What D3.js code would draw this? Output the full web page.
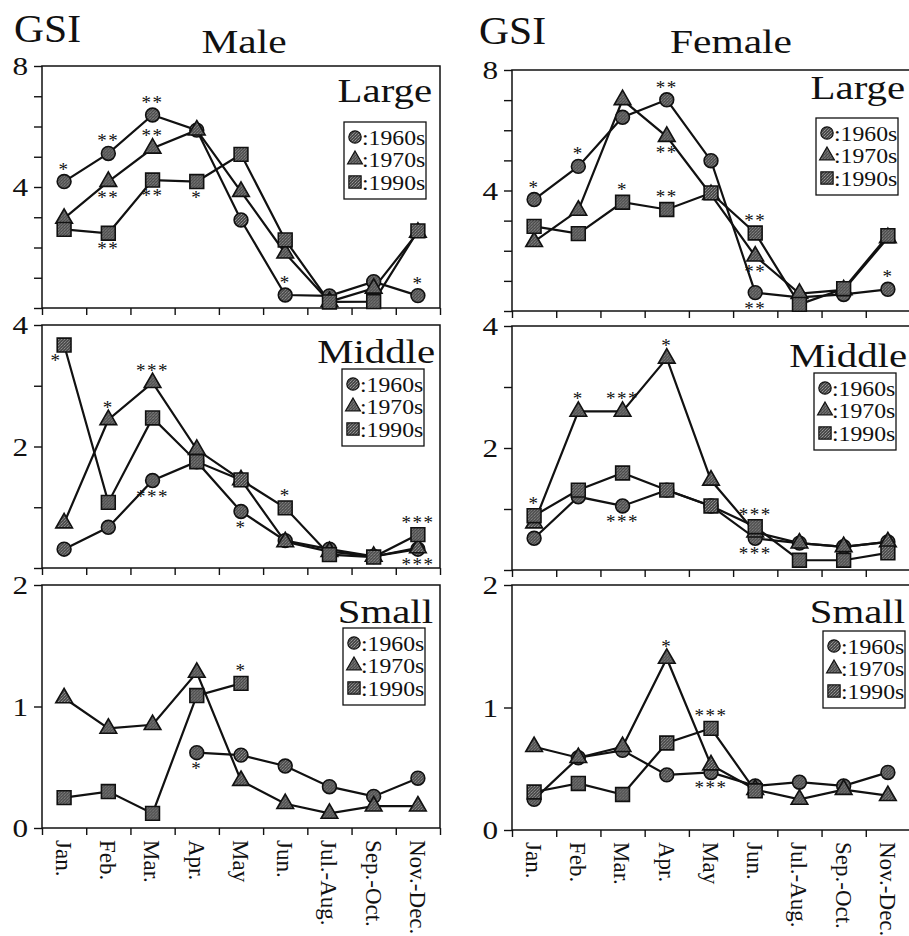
<!DOCTYPE html>
<html><head><meta charset="utf-8">
<script src="https://cdn.jsdelivr.net/npm/d3@7"></script>
<style>
html,body{margin:0;padding:0;background:#fff;}
svg{display:block;}
text{font-family:"Liberation Serif","Times New Roman",serif;fill:#111;}
</style></head>
<body>
<svg id="chart" width="909" height="936"></svg>
<script>
// ---------- data ----------
const months = ["Jan.","Feb.","Mar.","Apr.","May","Jun.","Jul.-Aug.","Sep.-Oct.","Nov.-Dec."];
const decadeLabels = [":1960s", ":1970s", ":1990s"];
const sizeLabels = ["Large", "Middle", "Small"];
const sexLabels = ["Male", "Female"];
const yMaxBySize = [8, 4, 2];
const yLabelTicks = [[8, 4], [4, 2], [2, 1, 0]];

const maleLarge1960s = [4.18, 5.11, 6.38, 5.88, 2.91, 0.43, 0.40, 0.87, 0.41];
const maleLarge1970s = [2.96, 4.18, 5.28, 5.88, 3.85, 1.81, 0.21, 0.65, 2.50];
const maleLarge1990s = [2.60, 2.47, 4.23, 4.18, 5.08, 2.25, 0.20, 0.21, 2.55];

const femaleLarge1960s = [3.70, 4.80, 6.43, 7.01, 4.99, 0.61, 0.45, 0.55, 0.72];
const femaleLarge1970s = [2.30, 3.34, 7.01, 5.79, 3.86, 1.82, 0.58, 0.70, 2.43];
const femaleLarge1990s = [2.81, 2.57, 3.61, 3.37, 3.92, 2.59, 0.22, 0.74, 2.50];

const maleMiddle1960s = [0.31, 0.67, 1.44, 1.75, 0.93, 0.45, 0.31, 0.19, 0.31];
const maleMiddle1970s = [0.74, 2.44, 3.05, 1.95, 1.45, 0.43, 0.27, 0.19, 0.33];
const maleMiddle1990s = [3.67, 1.08, 2.47, 1.75, 1.45, 0.99, 0.22, 0.18, 0.55];

const femaleMiddle1960s = [0.52, 1.20, 1.05, 1.31, 1.05, 0.52, 0.44, 0.38, 0.46];
const femaleMiddle1970s = [0.77, 2.60, 2.60, 3.47, 1.47, 0.62, 0.44, 0.38, 0.46];
const femaleMiddle1990s = [0.89, 1.31, 1.59, 1.31, 1.05, 0.71, 0.16, 0.16, 0.28];

const maleSmall1960s = [null, null, null, 0.62, 0.60, 0.51, 0.34, 0.26, 0.41];
const maleSmall1970s = [1.07, 0.82, 0.85, 1.28, 0.39, 0.20, 0.12, 0.18, 0.18];
const maleSmall1990s = [0.25, 0.30, 0.12, 1.09, 1.19, null, null, null, null];

const femaleSmall1960s = [0.25, 0.59, 0.65, 0.45, 0.47, 0.36, 0.39, 0.36, 0.47];
const femaleSmall1970s = [0.68, 0.59, 0.68, 1.40, 0.53, 0.33, 0.25, 0.33, 0.28];
const femaleSmall1990s = [0.31, 0.38, 0.29, 0.71, 0.83, 0.32, null, null, null];

// significance marks: [series index, month index, text, position]
const maleLargeMarks = [[0,0,"*","a"],[0,1,"**","a"],[1,1,"**","b"],[2,1,"**","b"],[0,2,"**","a"],[1,2,"**","a"],[2,2,"**","b"],[2,3,"*","b"],[0,5,"*","a"],[0,8,"*","a"]];
const femaleLargeMarks = [[0,0,"*","a"],[0,1,"*","a"],[2,2,"*","a"],[0,3,"**","a"],[1,3,"**","b"],[2,3,"**","a"],[2,5,"**","a"],[1,5,"**","b"],[0,5,"**","b"],[0,8,"*","a"]];
const maleMiddleMarks = [[2,0,"*","bl"],[1,1,"*","a"],[1,2,"***","a"],[0,2,"***","b"],[0,4,"*","b"],[2,5,"*","a"],[2,8,"***","a"],[0,8,"***","b"]];
const femaleMiddleMarks = [[2,0,"*","a"],[1,1,"*","a"],[1,2,"***","a"],[1,3,"*","a"],[0,2,"***","b"],[2,5,"***","a"],[0,5,"***","b"]];
const maleSmallMarks = [[0,3,"*","b"],[2,4,"*","a"]];
const femaleSmallMarks = [[1,3,"*","a"],[2,4,"***","a"],[0,4,"***","b"]];

const panelSeries = [
  [[maleLarge1960s, maleLarge1970s, maleLarge1990s], [maleMiddle1960s, maleMiddle1970s, maleMiddle1990s], [maleSmall1960s, maleSmall1970s, maleSmall1990s]],
  [[femaleLarge1960s, femaleLarge1970s, femaleLarge1990s], [femaleMiddle1960s, femaleMiddle1970s, femaleMiddle1990s], [femaleSmall1960s, femaleSmall1970s, femaleSmall1990s]]
];
const panelMarks = [
  [maleLargeMarks, maleMiddleMarks, maleSmallMarks],
  [femaleLargeMarks, femaleMiddleMarks, femaleSmallMarks]
];

// ---------- layout ----------
const colX = [[42, 440], [512, 910]];
const rowY = [
  [[66, 308], [325, 568], [585, 828]],
  [[70, 311], [326, 570], [585, 830]]
];
const labelPos = [
  [[432, 102], [435, 363], [433, 623]],
  [[905, 99], [907, 367], [905, 623]]
];
const legendPos = [
  [[344, 122], [342, 369], [343, 628]],
  [[816, 118], [814, 373], [823, 631]]
];

const svg = d3.select("#chart");
const defs = svg.append("defs");
const pat = defs.append("pattern").attr("id", "stip").attr("width", 3).attr("height", 3)
  .attr("patternUnits", "userSpaceOnUse");
pat.append("rect").attr("width", 3).attr("height", 3).attr("fill", "#4a4a4a");
pat.append("rect").attr("x", 0).attr("y", 0).attr("width", 1).attr("height", 1).attr("fill", "#999");
pat.append("rect").attr("x", 2).attr("y", 1).attr("width", 1).attr("height", 1).attr("fill", "#7a7a7a");
pat.append("rect").attr("x", 1).attr("y", 2).attr("width", 1).attr("height", 1).attr("fill", "#888");

const symTypes = [d3.symbolCircle, d3.symbolTriangle, d3.symbolSquare];
const symSizes = [150, 120, 190];
const legSizes = [120, 95, 150];

function stretchedText(parent, x, y, str, size, sx, anchor) {
  const g = parent.append("g").attr("transform", `translate(${x},${y}) scale(${sx},1)`);
  return g.append("text").attr("font-size", size).attr("text-anchor", anchor || "start").text(str);
}

// headers
stretchedText(svg, 14, 42, "GSI", 40, 1.04);
stretchedText(svg, 479, 44, "GSI", 40, 1.04);
stretchedText(svg, 244, 53, sexLabels[0], 34, 1.22, "middle");
stretchedText(svg, 731, 53, sexLabels[1], 34, 1.22, "middle");

for (let s = 0; s < 2; s++) {
  for (let r = 0; r < 3; r++) {
    const [x0, x1] = colX[s];
    const [top, bottom] = rowY[s][r];
    const g = svg.append("g");
    const x = d3.scaleBand().domain(months).range([x0, x1]);
    const xEdge = d3.scaleLinear().domain([0, months.length]).range([x0, x1]);
    const y = d3.scaleLinear().domain([0, yMaxBySize[r]]).range([bottom, top]);
    const cx = i => x(months[i]) + x.bandwidth() / 2;

    // frame
    g.append("rect").attr("x", x0).attr("y", top).attr("width", x1 - x0).attr("height", bottom - top)
      .attr("fill", "none").attr("stroke", "#111").attr("stroke-width", 1.5);

    // y axis
    const ya = g.append("g").attr("transform", `translate(${x0},0)`)
      .call(d3.axisLeft(y).tickValues(d3.range(0, yMaxBySize[r] + 1)).tickSize(8)
        .tickFormat(d => yLabelTicks[r].includes(d) ? d : ""));
    ya.select(".domain").remove();
    ya.selectAll(".tick line").attr("stroke", "#111").attr("stroke-width", 1.4);
    ya.selectAll(".tick text").attr("font-family", "Liberation Serif").attr("font-size", 26)
      .attr("fill", "#111").attr("x", -14 / 1.2).attr("dy", "0.34em")
      .attr("transform", "scale(1.2,1)");

    // x axis ticks at band edges
    const xa = g.append("g").attr("transform", `translate(0,${bottom})`)
      .call(d3.axisBottom(xEdge).tickValues(d3.range(0, months.length + 1)).tickSize(7).tickFormat(""));
    xa.select(".domain").remove();
    xa.selectAll(".tick line").attr("stroke", "#111").attr("stroke-width", 1.4);

    // month labels only on bottom row
    if (r === 2) {
      months.forEach((m, i) => {
        g.append("g").attr("transform", `translate(${cx(i)},${bottom + 12}) rotate(90)`)
          .append("text").attr("font-size", 23).attr("dy", "0.35em").text(m);
      });
    }

    // lines
    const series = panelSeries[s][r];
    const line = d3.line().defined(d => d.v != null).x(d => cx(d.i)).y(d => y(d.v));
    series.forEach(vals => {
      g.append("path").datum(vals.map((v, i) => ({ v, i })))
        .attr("d", line).attr("fill", "none").attr("stroke", "#111").attr("stroke-width", 2.2);
    });
    series.forEach((vals, k) => {
      vals.forEach((v, i) => {
        if (v == null) return;
        g.append("path").attr("d", d3.symbol().type(symTypes[k]).size(symSizes[k])())
          .attr("transform", `translate(${cx(i)},${y(v)})`)
          .attr("fill", "url(#stip)").attr("stroke", "#111").attr("stroke-width", 1.6);
      });
    });

    // significance marks
    panelMarks[s][r].forEach(([k, i, txt, pos]) => {
      const py = y(series[k][i]);
      let tx = cx(i), ty;
      if (pos === "a") ty = py - 15;
      else if (pos === "b") ty = py + 13;
      else { ty = py + 13; tx -= 8; }
      g.append("text").attr("x", tx).attr("y", ty + 9).attr("font-size", 19)
        .attr("letter-spacing", 1.5).attr("text-anchor", "middle").text(txt);
    });

    // size label
    const [lx, ly] = labelPos[s][r];
    stretchedText(g, lx, ly, sizeLabels[r], 34, 1.2, "end");

    // legend
    const [bx, by] = legendPos[s][r];
    const lg = g.append("g").attr("transform", `translate(${bx},${by})`);
    lg.append("rect").attr("width", 82).attr("height", 77).attr("fill", "#fff")
      .attr("stroke", "#111").attr("stroke-width", 1.3);
    decadeLabels.forEach((lab, k) => {
      const rowC = 15 + k * 22.5;
      lg.append("path").attr("d", d3.symbol().type(symTypes[k]).size(legSizes[k])())
        .attr("transform", `translate(11,${rowC})`)
        .attr("fill", "url(#stip)").attr("stroke", "#111").attr("stroke-width", 1.2);
      stretchedText(lg, 18, rowC + 7.5, lab, 21, 1.13);
    });
  }
}
</script>
</body></html>
